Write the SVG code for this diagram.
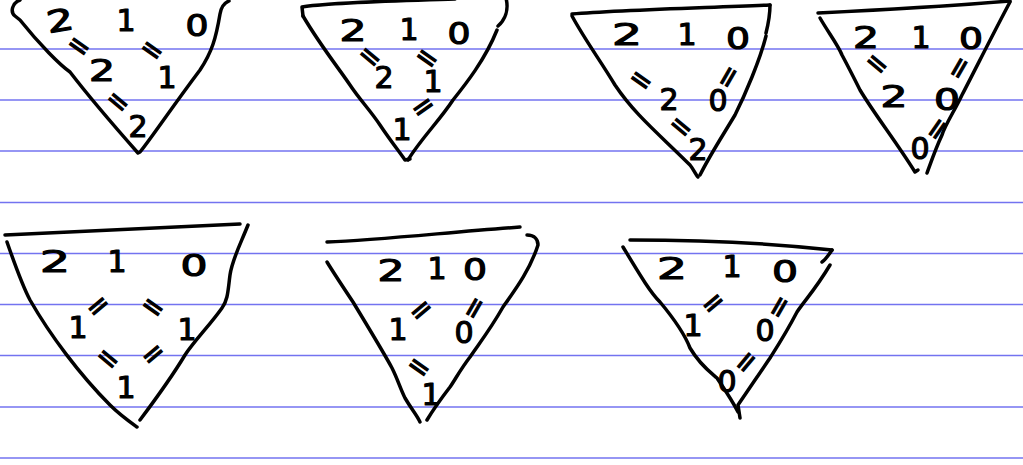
<svg xmlns="http://www.w3.org/2000/svg" width="1023" height="465" viewBox="0 0 1023 465">
<style>
.rule{stroke:#7373f0;stroke-width:1.3;fill:none}
.ink{stroke:#000;stroke-width:3.5;fill:none;stroke-linecap:round;stroke-linejoin:round}
.d{font-family:"DejaVu Sans",sans-serif;font-size:30px;text-anchor:middle;fill:#000;stroke:#000;stroke-width:1.2;stroke-linejoin:round}
.e{font-family:"DejaVu Sans",sans-serif;font-size:28px;text-anchor:middle;fill:#000;stroke:#000;stroke-width:1.2}
</style>
<rect width="1023" height="465" fill="#fff"/>
<g id="rules">
<line class="rule" x1="0" y1="49" x2="1023" y2="49"/>
<line class="rule" x1="0" y1="100" x2="1023" y2="100"/>
<line class="rule" x1="0" y1="151" x2="1023" y2="151"/>
<line class="rule" x1="0" y1="202.5" x2="1023" y2="202.5"/>
<line class="rule" x1="0" y1="253.5" x2="1023" y2="253.5"/>
<line class="rule" x1="0" y1="304.5" x2="1023" y2="304.5"/>
<line class="rule" x1="0" y1="355.5" x2="1023" y2="355.5"/>
<line class="rule" x1="0" y1="407" x2="1023" y2="407"/>
<line class="rule" x1="0" y1="458" x2="1023" y2="458"/>
</g>
<g id="tri1">
<path class="ink" d="M 20 0 C 12 3, 10 12, 15 16 L 20 20 C 40 45, 60 65, 70 72 C 80 85, 100 110, 138 153 L 140 152 C 150 140, 170 110, 200 70 C 212 52, 216 38, 220 14 C 221 8, 224 3, 229 1"/>
<text class="d" x="60" y="31" textLength="27" lengthAdjust="spacingAndGlyphs" transform="rotate(-10 60 20)">2</text>
<text class="d" x="126" y="31">1</text>
<text class="d" x="197" y="36" textLength="23" lengthAdjust="spacingAndGlyphs">0</text>
<text class="e" x="79" y="55" transform="rotate(35 79 46)">=</text>
<text class="d" x="102" y="81" textLength="26" lengthAdjust="spacingAndGlyphs">2</text>
<text class="e" x="152" y="59" transform="rotate(35 152 50)">=</text>
<text class="d" x="167" y="88">1</text>
<text class="e" x="118" y="111" transform="rotate(40 118 102)">=</text>
<text class="d" x="138" y="137">2</text>
</g>
<g id="tri2">
<path class="ink" d="M 303 16 L 302 7 C 330 2, 400 1, 455 -1"/>
<path class="ink" d="M 506 -2 C 509 10, 505 20, 498 26 M 497 30 C 485 60, 465 85, 453 100 C 440 120, 420 140, 408 160"/>
<path class="ink" d="M 303 16 C 320 45, 340 70, 350 85 C 360 100, 370 110, 380 125 C 390 140, 398 150, 405 160 L 410 159"/>
<text class="d" x="353" y="41" textLength="27" lengthAdjust="spacingAndGlyphs">2</text>
<text class="d" x="409" y="40">1</text>
<text class="d" x="459" y="44" textLength="23" lengthAdjust="spacingAndGlyphs">0</text>
<text class="e" x="370" y="66" transform="rotate(40 370 57)">=</text>
<text class="d" x="384" y="88">2</text>
<text class="e" x="427" y="67" transform="rotate(35 427 58)">=</text>
<text class="d" x="433" y="92">1</text>
<text class="e" x="423" y="116" transform="rotate(-35 423 107)">=</text>
<text class="d" x="402" y="140">1</text>
</g>
<g id="tri3">
<path class="ink" d="M 572 14 C 620 10, 700 8, 770 5"/>
<path class="ink" d="M 770 5 C 770 15, 768 25, 766 33 M 766 36 C 760 60, 745 95, 735 115 C 720 140, 710 155, 700 175"/>
<path class="ink" d="M 572 16 C 585 40, 600 60, 615 85 C 635 115, 660 135, 690 165 C 694 170, 696 175, 698 177"/>
<text class="d" x="627" y="45" textLength="30" lengthAdjust="spacingAndGlyphs">2</text>
<text class="d" x="687" y="45">1</text>
<text class="d" x="738" y="49" textLength="24" lengthAdjust="spacingAndGlyphs">0</text>
<text class="e" x="641" y="89" transform="rotate(35 641 80)">=</text>
<text class="d" x="669" y="110">2</text>
<text class="e" x="728" y="86" transform="rotate(-60 728 77)">=</text>
<text class="d" x="718" y="111">0</text>
<text class="e" x="681" y="136" transform="rotate(40 681 127)">=</text>
<text class="d" x="698" y="160">2</text>
</g>
<g id="tri4">
<path class="ink" d="M 818 13 C 880 10, 950 6, 1010 1"/>
<path class="ink" d="M 1010 2 C 995 30, 975 70, 962 95 C 955 110, 945 125, 942 135 C 935 150, 930 165, 927 173"/>
<path class="ink" d="M 820 18 C 828 32, 838 45, 842 55 C 850 70, 855 80, 860 90 C 875 115, 895 140, 915 172 L 918 170"/>
<text class="d" x="866" y="48" textLength="26" lengthAdjust="spacingAndGlyphs">2</text>
<text class="d" x="921" y="48">1</text>
<text class="d" x="971" y="49" textLength="24" lengthAdjust="spacingAndGlyphs">0</text>
<text class="e" x="877" y="73" transform="rotate(40 877 64)">=</text>
<text class="d" x="894" y="107" textLength="27" lengthAdjust="spacingAndGlyphs">2</text>
<text class="e" x="959" y="77" transform="rotate(-60 959 68)">=</text>
<text class="d" x="947" y="110" textLength="26" lengthAdjust="spacingAndGlyphs">0</text>
<text class="e" x="937" y="138" transform="rotate(-55 937 129)">=</text>
<text class="d" x="920" y="159">0</text>
</g>
<g id="tri5">
<path class="ink" d="M 5 235 C 60 232, 150 228, 240 224"/>
<path class="ink" d="M 7 242 C 15 265, 22 285, 30 300 C 50 335, 80 375, 110 405 C 120 415, 130 422, 137 427"/>
<path class="ink" d="M 248 225 C 240 245, 232 260, 230 275 C 228 290, 228 300, 222 308 C 210 325, 195 340, 185 355 C 170 380, 155 400, 140 420"/>
<text class="d" x="55" y="272" textLength="30" lengthAdjust="spacingAndGlyphs">2</text>
<text class="d" x="117" y="272">1</text>
<text class="d" x="194" y="276" textLength="27" lengthAdjust="spacingAndGlyphs">0</text>
<text class="e" x="98" y="315" transform="rotate(-40 98 306)">=</text>
<text class="e" x="153" y="316" transform="rotate(35 153 307)">=</text>
<text class="d" x="78" y="338">1</text>
<text class="d" x="187" y="340">1</text>
<text class="e" x="108" y="368" transform="rotate(40 108 359)">=</text>
<text class="e" x="153" y="363" transform="rotate(-40 153 354)">=</text>
<text class="d" x="126" y="398">1</text>
</g>
<g id="tri6">
<path class="ink" d="M 327 242 C 380 240, 450 232, 520 227"/>
<path class="ink" d="M 527 235 C 535 235, 538 240, 538 245 C 530 270, 515 290, 503 307 C 490 330, 478 345, 470 357 C 460 370, 455 380, 450 387 C 440 400, 433 410, 427 420"/>
<path class="ink" d="M 327 262 C 335 275, 345 290, 353 302 C 370 330, 385 355, 392 368 C 398 380, 400 388, 405 398 C 412 410, 417 415, 420 422"/>
<text class="d" x="391" y="281" textLength="27" lengthAdjust="spacingAndGlyphs">2</text>
<text class="d" x="437" y="279">1</text>
<text class="d" x="475" y="280" textLength="24" lengthAdjust="spacingAndGlyphs">0</text>
<text class="e" x="421" y="319" transform="rotate(-40 421 310)">=</text>
<text class="d" x="398" y="340">1</text>
<text class="e" x="474" y="317" transform="rotate(-60 474 308)">=</text>
<text class="d" x="464" y="343">0</text>
<text class="e" x="419" y="376" transform="rotate(35 419 367)">=</text>
<text class="d" x="431" y="405">1</text>
</g>
<g id="tri7">
<path class="ink" d="M 630 240 C 680 240, 760 242, 832 250"/>
<path class="ink" d="M 832 250 C 828 256, 825 260, 822 262 M 830 265 C 815 290, 805 300, 797 312 C 785 335, 775 350, 770 358 C 755 380, 745 395, 738 405 L 740 418"/>
<path class="ink" d="M 623 247 C 640 275, 650 292, 660 302 C 675 320, 685 335, 690 348 C 700 365, 710 372, 717 378 C 725 390, 732 400, 738 412"/>
<text class="d" x="672" y="279" textLength="30" lengthAdjust="spacingAndGlyphs">2</text>
<text class="d" x="732" y="277">1</text>
<text class="d" x="785" y="282" textLength="26" lengthAdjust="spacingAndGlyphs">0</text>
<text class="e" x="713" y="312" transform="rotate(-40 713 303)">=</text>
<text class="d" x="693" y="336">1</text>
<text class="e" x="779" y="316" transform="rotate(-60 779 307)">=</text>
<text class="d" x="765" y="341">0</text>
<text class="e" x="746" y="371" transform="rotate(-50 746 362)">=</text>
<text class="d" x="727" y="392">0</text>
</g>
</svg>
